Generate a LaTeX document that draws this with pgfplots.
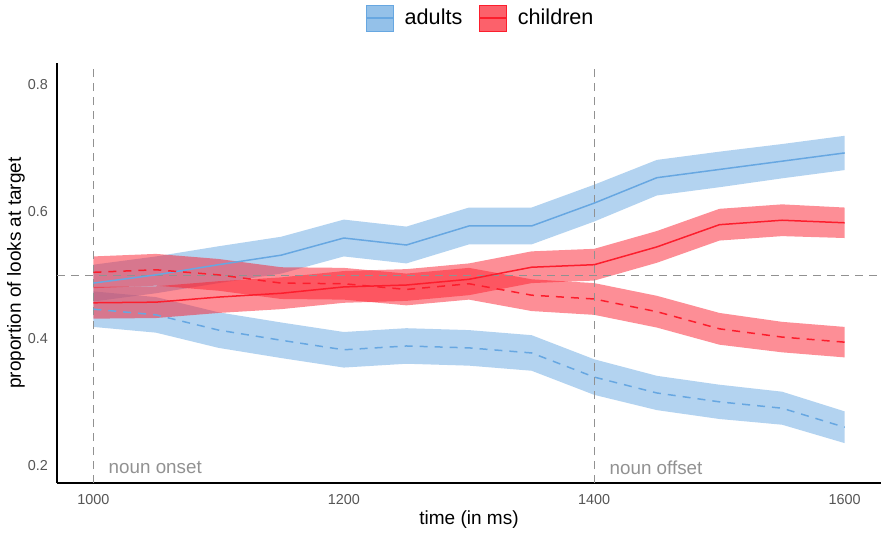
\documentclass[border=0pt]{standalone}
\usepackage{fontspec}
\setmainfont{Liberation Sans}
\usepackage{pgfplots}
\pgfplotsset{compat=1.18}
\usepackage{pgfplotstable}
\usepgfplotslibrary{fillbetween}

\definecolor{adultc}{RGB}{103,167,225}
\definecolor{childc}{RGB}{252,30,45}
\definecolor{refgray}{RGB}{145,145,145}
\definecolor{tickgray}{RGB}{85,85,85}

% t, adults target/distractor, children target/distractor (mean, lo, hi)
\pgfplotstableread{
t    am    alo   ahi   dm    dlo   dhi   cm    clo   chi   em    elo   ehi
1000 0.488 0.459 0.517 0.447 0.419 0.475 0.457 0.432 0.482 0.505 0.480 0.530
1050 0.501 0.472 0.530 0.438 0.410 0.466 0.458 0.433 0.483 0.509 0.484 0.534
1100 0.517 0.488 0.546 0.414 0.386 0.442 0.466 0.441 0.491 0.501 0.476 0.526
1150 0.532 0.503 0.561 0.398 0.370 0.426 0.472 0.447 0.497 0.488 0.463 0.513
1200 0.559 0.530 0.588 0.383 0.355 0.411 0.482 0.457 0.507 0.487 0.462 0.512
1250 0.548 0.519 0.577 0.389 0.361 0.417 0.485 0.460 0.510 0.478 0.453 0.503
1300 0.578 0.549 0.607 0.386 0.358 0.414 0.494 0.469 0.519 0.487 0.462 0.512
1350 0.578 0.549 0.607 0.378 0.350 0.406 0.513 0.488 0.538 0.469 0.444 0.494
1400 0.614 0.585 0.643 0.340 0.312 0.368 0.517 0.492 0.542 0.463 0.438 0.488
1450 0.654 0.626 0.682 0.315 0.288 0.342 0.545 0.520 0.570 0.443 0.418 0.468
1500 0.667 0.639 0.695 0.301 0.274 0.328 0.580 0.555 0.605 0.416 0.391 0.441
1550 0.680 0.653 0.707 0.291 0.265 0.317 0.587 0.562 0.612 0.403 0.379 0.427
1600 0.693 0.666 0.720 0.261 0.236 0.286 0.583 0.559 0.607 0.395 0.371 0.419
}\looks

\begin{document}
\begin{tikzpicture}
\begin{axis}[
  at={(0pt,0pt)}, anchor=south west,
  scale only axis, width=412pt, height=210pt,
  xmin=971, xmax=1629, ymin=0.1732, ymax=0.8346,
  axis x line*=bottom, axis y line*=left,
  axis line style={black,line width=0.8pt,-},
  major tick length=0pt,
  xtick={1000,1200,1400,1600}, ytick={0.2,0.4,0.6,0.8},
  /pgf/number format/assume math mode=true,
  /pgf/number format/1000 sep={},
  ticklabel style={font=\fontsize{7.2}{8}\selectfont, text=tickgray},
  xticklabel style={yshift=-2pt},
  yticklabel style={xshift=-1pt},
  xlabel={time (in ms)}, ylabel={proportion of looks at target},
  label style={font=\fontsize{9.5}{11}\selectfont},
  x label style={at={(axis description cs:0.5,-0.088)}, anchor=center},
  y label style={at={(axis description cs:-0.0498,0.5)}, anchor=center},
  legend style={at={(0.515,1.107)}, anchor=center, draw=none,
    font=\fontsize{10.8}{12}\selectfont, inner sep=0pt,
    /tikz/every odd column/.append style={column sep=3.5pt},
    /tikz/every even column/.append style={column sep=6pt}},
  legend columns=2,
  legend cell align=left,
]
\addlegendimage{legend image code/.code={
  \fill[adultc, fill opacity=0.7] (0pt,-6.5pt) rectangle (13.5pt,6.5pt);
  \draw[adultc, line width=0.75pt] (0pt,0pt) -- (13.5pt,0pt);}}
\addlegendentry{adults}
\addlegendimage{legend image code/.code={
  \fill[childc, fill opacity=0.7] (0pt,-6.5pt) rectangle (13.5pt,6.5pt);
  \draw[childc, line width=0.75pt] (0pt,0pt) -- (13.5pt,0pt);}}
\addlegendentry{children}

% adults bands
\addplot[draw=none, name path=alo, forget plot] table[x=t,y=alo] {\looks};
\addplot[draw=none, name path=ahi, forget plot] table[x=t,y=ahi] {\looks};
\addplot[adultc, fill opacity=0.5, forget plot] fill between[of=alo and ahi];
\addplot[draw=none, name path=dlo, forget plot] table[x=t,y=dlo] {\looks};
\addplot[draw=none, name path=dhi, forget plot] table[x=t,y=dhi] {\looks};
\addplot[adultc, fill opacity=0.5, forget plot] fill between[of=dlo and dhi];
% children bands
\addplot[draw=none, name path=clo, forget plot] table[x=t,y=clo] {\looks};
\addplot[draw=none, name path=chi, forget plot] table[x=t,y=chi] {\looks};
\addplot[childc, fill opacity=0.5, forget plot] fill between[of=clo and chi];
\addplot[draw=none, name path=elo, forget plot] table[x=t,y=elo] {\looks};
\addplot[draw=none, name path=ehi, forget plot] table[x=t,y=ehi] {\looks};
\addplot[childc, fill opacity=0.5, forget plot] fill between[of=elo and ehi];

% reference lines
\addplot[refgray, line width=0.7pt, dash pattern=on 4pt off 3pt, forget plot]
  coordinates {(971,0.5) (1629,0.5)};
\addplot[refgray, line width=0.7pt, dash pattern=on 4pt off 3pt, forget plot]
  coordinates {(1000,0.1732) (1000,0.8346)};
\addplot[refgray, line width=0.7pt, dash pattern=on 4pt off 3pt, forget plot]
  coordinates {(1400,0.1732) (1400,0.8346)};

% means
\addplot[adultc, line width=0.75pt, forget plot] table[x=t,y=am] {\looks};
\addplot[adultc, line width=0.75pt, dash pattern=on 4pt off 3.5pt, forget plot] table[x=t,y=dm] {\looks};
\addplot[childc, line width=0.75pt, forget plot] table[x=t,y=cm] {\looks};
\addplot[childc, line width=0.75pt, dash pattern=on 4pt off 3.5pt, forget plot] table[x=t,y=em] {\looks};

\node[anchor=west, text=refgray, font=\fontsize{9.4}{11}\selectfont, inner sep=0pt]
  at (axis cs:1012,0.197) {noun onset};
\node[anchor=west, text=refgray, font=\fontsize{9.4}{11}\selectfont, inner sep=0pt]
  at (axis cs:1412,0.197) {noun offset};
\end{axis}
\pgfresetboundingbox
\path[use as bounding box] (-28.5pt,-24.5pt) rectangle (412pt,241.5pt);
\end{tikzpicture}
\end{document}
